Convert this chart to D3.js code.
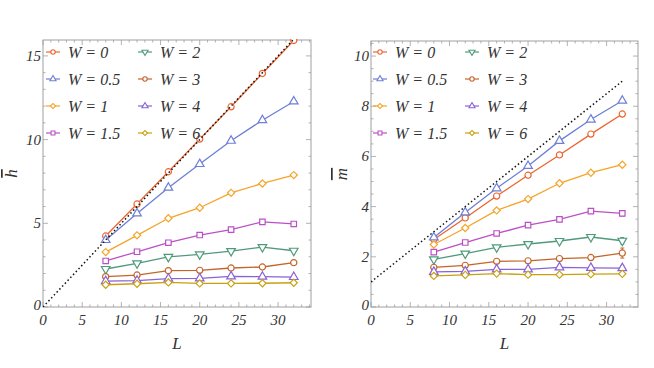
<!DOCTYPE html>
<html>
<head>
<meta charset="utf-8">
<script src="https://cdn.jsdelivr.net/npm/d3@7"></script>
<style>
  body { margin: 0; background: #fff; }
</style>
</head>
<body>
<svg id="chart" width="654" height="368" font-family="Liberation Serif" font-style="italic"></svg>
<script>
// data
const L = [8, 12, 16, 20, 24, 28, 32];
const wLabels = ["0", "0.5", "1", "1.5", "2", "3", "4", "6"];
const colors = ["#ec6530", "#6d7fd6", "#f5a42a", "#bb50c6", "#4f9a7b", "#c4642a", "#8a62d8", "#c9a010"];
const shapes = ["circle", "triangle", "diamond", "square", "down", "circle", "triangle", "diamond"];

// mean h per W (left panel)
const hW0   = [4.24, 6.15, 8.08, 10.03, 11.96, 13.95, 15.92];
const hW05  = [4.00, 5.59, 7.13, 8.54, 9.93, 11.16, 12.28];
const hW1   = [3.28, 4.28, 5.30, 5.93, 6.82, 7.38, 7.88];
const hW15  = [2.75, 3.30, 3.84, 4.30, 4.62, 5.09, 4.96];
const hW2   = [2.27, 2.61, 2.99, 3.14, 3.34, 3.58, 3.36];
const hW3   = [1.81, 1.91, 2.17, 2.19, 2.33, 2.39, 2.65];
const hW4   = [1.55, 1.57, 1.69, 1.71, 1.83, 1.81, 1.79];
const hW6   = [1.33, 1.39, 1.47, 1.41, 1.41, 1.42, 1.45];
const hErr  = [0, 0, 0, 0.05, 0.06, 0.1, 0.04, 0.03]; // error at L = 32

// mean m per W (right panel)
const mW0   = [2.69, 3.55, 4.42, 5.25, 6.06, 6.89, 7.69];
const mW05  = [2.77, 3.77, 4.73, 5.62, 6.62, 7.47, 8.22];
const mW1   = [2.49, 3.15, 3.85, 4.30, 4.93, 5.35, 5.67];
const mW15  = [2.19, 2.57, 2.93, 3.26, 3.49, 3.82, 3.73];
const mW2   = [1.90, 2.13, 2.38, 2.51, 2.63, 2.79, 2.64];
const mW3   = [1.58, 1.66, 1.82, 1.84, 1.93, 1.97, 2.15];
const mW4   = [1.40, 1.42, 1.50, 1.50, 1.58, 1.56, 1.55];
const mW6   = [1.24, 1.28, 1.33, 1.29, 1.29, 1.31, 1.32];
const mErr  = [0.03, 0.04, 0.06, 0.1, 0.13, 0.2, 0.09, 0.05];

// reference lines: h = L/2, m = 1 + L/4
const refL = [0, 32];
const refH = [0, 16];
const refM = [1, 9];

const svg = d3.select("#chart");
const textColor = "#333";

function symbolPath(shape, s) {
  if (shape === "circle") return d3.symbol(d3.symbolCircle, 30 * s)();
  if (shape === "square") return d3.symbol(d3.symbolSquare, 30 * s)();
  if (shape === "diamond") return d3.symbol(d3.symbolSquare, 26 * s)();
  return d3.symbol(d3.symbolTriangle, 32 * s)();
}
function symbolRot(shape) {
  if (shape === "diamond") return 45;
  if (shape === "down") return 180;
  return 0;
}

function drawPanel(opt) {
  const g = svg.append("g");
  const x = d3.scaleLinear().domain(opt.xDomain).range([opt.left, opt.right]);
  const y = d3.scaleLinear().domain(opt.yDomain).range([opt.bottom, opt.top]);

  // clip
  const clipId = "clip" + opt.id;
  g.append("clipPath").attr("id", clipId)
    .append("rect").attr("x", opt.left).attr("y", opt.top - 1)
    .attr("width", opt.right - opt.left).attr("height", opt.bottom - opt.top + 1);

  // frame + ticks
  g.append("rect")
    .attr("x", opt.left).attr("y", opt.top)
    .attr("width", opt.right - opt.left).attr("height", opt.bottom - opt.top)
    .attr("fill", "none").attr("stroke", "#a0a0a0").attr("stroke-width", 1);

  const xMajor = d3.range(0, 31, 5);
  const xMinor = d3.range(0, opt.xDomain[1], 1);
  const yMajor = opt.yMajor;
  const yMinor = d3.range(0, opt.yDomain[1], opt.yMinorStep);

  const tickG = g.append("g").attr("stroke", "#a0a0a0").attr("stroke-width", 0.8);
  xMinor.forEach(v => {
    const len = xMajor.includes(v) ? 5 : 2.5;
    tickG.append("line").attr("x1", x(v)).attr("x2", x(v)).attr("y1", opt.bottom).attr("y2", opt.bottom - len);
    tickG.append("line").attr("x1", x(v)).attr("x2", x(v)).attr("y1", opt.top).attr("y2", opt.top + len);
  });
  yMinor.forEach(v => {
    const len = yMajor.some(m => Math.abs(m - v) < 1e-6) ? 5 : 2.5;
    tickG.append("line").attr("y1", y(v)).attr("y2", y(v)).attr("x1", opt.left).attr("x2", opt.left + len);
    tickG.append("line").attr("y1", y(v)).attr("y2", y(v)).attr("x1", opt.right).attr("x2", opt.right - len);
  });

  g.selectAll(".xt").data(xMajor).join("text")
    .attr("x", d => x(d)).attr("y", opt.bottom + 18).attr("fill", textColor)
    .attr("text-anchor", "middle").attr("font-size", 15).text(d => d);
  g.selectAll(".yt").data(yMajor).join("text")
    .attr("x", opt.left - 2).attr("y", d => y(d) + (d === 0 ? 3 : 5)).attr("fill", textColor)
    .attr("text-anchor", "end").attr("font-size", 15).text(d => d);

  // axis labels
  g.append("text").attr("x", (opt.left + opt.right) / 2).attr("y", opt.bottom + 42)
    .attr("text-anchor", "middle").attr("font-size", 17).attr("fill", textColor).text("L");
  g.append("text")
    .attr("transform", `translate(${opt.yLabelX},${(opt.top + opt.bottom) / 2}) rotate(-90)`)
    .attr("text-anchor", "middle").attr("font-size", 17).attr("fill", textColor)
    .style("text-decoration", "overline")
    .text(opt.yLabel);

  // series
  const plot = g.append("g").attr("clip-path", `url(#${clipId})`);
  const line = d3.line().x(d => x(d[0])).y(d => y(d[1]));
  opt.series.forEach((vals, i) => {
    const pts = L.map((l, j) => [l, vals[j]]);
    plot.append("path").datum(pts).attr("d", line)
      .attr("fill", "none").attr("stroke", colors[i]).attr("stroke-width", 1.3);
    // error bar at last point
    const e = opt.err[i];
    if (e > 0.04) {
      const lx = x(L[L.length - 1]), v = vals[vals.length - 1];
      plot.append("line").attr("x1", lx).attr("x2", lx).attr("y1", y(v - e)).attr("y2", y(v + e))
        .attr("stroke", colors[i]).attr("stroke-width", 1);
      [v - e, v + e].forEach(b => plot.append("line").attr("x1", lx - 2).attr("x2", lx + 2)
        .attr("y1", y(b)).attr("y2", y(b)).attr("stroke", colors[i]).attr("stroke-width", 1));
    }
    plot.selectAll(null).data(pts).join("path")
      .attr("d", symbolPath(shapes[i], 1))
      .attr("transform", d => `translate(${x(d[0])},${y(d[1])}) rotate(${symbolRot(shapes[i])})`)
      .attr("fill", "white").attr("stroke", colors[i]).attr("stroke-width", 1.2);
  });

  // dotted reference line
  plot.append("path").datum(refL.map((l, j) => [l, opt.ref[j]])).attr("d", line)
    .attr("fill", "none").attr("stroke", "#111").attr("stroke-width", 1.5)
    .attr("stroke-dasharray", "1.5,2.5");

  // legend
  wLabels.forEach((w, i) => {
    const col = Math.floor(i / 4), row = i % 4;
    const lx = opt.left + opt.legX[col], ly = 52 + row * 27;
    g.append("line").attr("x1", lx - 7).attr("x2", lx + 7).attr("y1", ly).attr("y2", ly)
      .attr("stroke", colors[i]).attr("stroke-width", 1.2);
    g.append("path").attr("d", symbolPath(shapes[i], 0.5))
      .attr("transform", `translate(${lx},${ly}) rotate(${symbolRot(shapes[i])})`)
      .attr("fill", "white").attr("stroke", colors[i]).attr("stroke-width", 1.1);
    g.append("text").attr("x", lx + 15).attr("y", ly + 6).attr("font-size", 16).attr("fill", textColor)
      .attr("xml:space", "preserve").text(`W = ${w}`);
  });
}

drawPanel({
  id: "h", left: 43, right: 311, top: 40, bottom: 307,
  xDomain: [0, 34.2], yDomain: [0, 15.95], yMajor: [0, 5, 10, 15], yMinorStep: 1,
  yLabel: "h", yLabelX: 17, legX: [10, 102],
  series: [hW0, hW05, hW1, hW15, hW2, hW3, hW4, hW6], err: hErr, ref: refH
});
drawPanel({
  id: "m", left: 371, right: 638, top: 41, bottom: 307,
  xDomain: [0, 34.0], yDomain: [0, 10.6], yMajor: [0, 2, 4, 6, 8, 10], yMinorStep: 0.5,
  yLabel: "m", yLabelX: 347, legX: [9, 101],
  series: [mW0, mW05, mW1, mW15, mW2, mW3, mW4, mW6], err: mErr, ref: refM
});
</script>
</body>
</html>
